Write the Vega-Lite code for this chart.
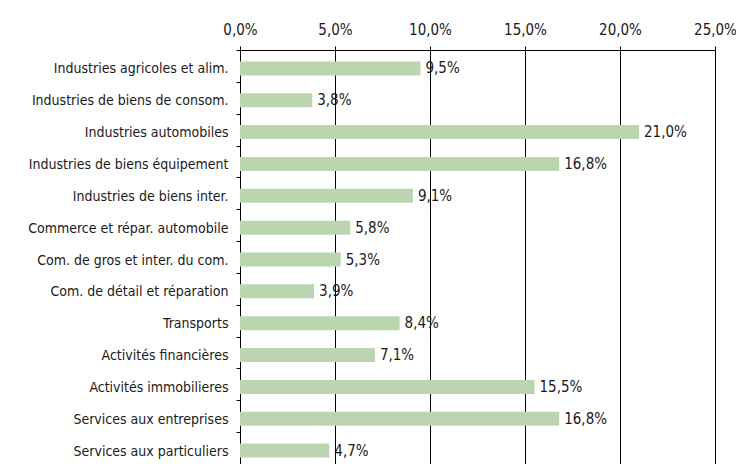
{
  "$schema": "https://vega.github.io/schema/vega-lite/v6.json",
  "autosize": {"type": "none"},
  "padding": {"left": 240, "top": 50, "right": 21, "bottom": 0},
  "width": 475,
  "height": 414,
  "background": "white",
  "config": {
    "locale": {"number": {"decimal": ",", "thousands": " ", "grouping": [3], "currency": ["", " €"]}},
    "view": {"stroke": "black", "strokeWidth": 1},
    "font": "DejaVu Sans Condensed"
  },
  "data": {
    "values": [
      {"secteur": "Industries agricoles et alim.", "part": 0.095},
      {"secteur": "Industries de biens de consom.", "part": 0.038},
      {"secteur": "Industries automobiles", "part": 0.210},
      {"secteur": "Industries de biens équipement", "part": 0.168},
      {"secteur": "Industries de biens inter.", "part": 0.091},
      {"secteur": "Commerce et répar. automobile", "part": 0.058},
      {"secteur": "Com. de gros et inter. du com.", "part": 0.053},
      {"secteur": "Com. de détail et réparation", "part": 0.039},
      {"secteur": "Transports", "part": 0.084},
      {"secteur": "Activités financières", "part": 0.071},
      {"secteur": "Activités immobilieres", "part": 0.155},
      {"secteur": "Services aux entreprises", "part": 0.168},
      {"secteur": "Services aux particuliers", "part": 0.047}
    ]
  },
  "encoding": {
    "y": {
      "field": "secteur",
      "type": "nominal",
      "sort": null,
      "title": null,
      "scale": {"paddingInner": 0, "paddingOuter": 0},
      "axis": {
        "tickBand": "extent",
        "domainColor": "black",
        "tickColor": "black",
        "tickSize": 4,
        "labelPadding": 8,
        "labelOffset": 3,
        "labelFont": "DejaVu Sans Condensed",
        "labelFontSize": 14,
        "labelColor": "#1a1a1a",
        "labelLimit": 260,
        "grid": false
      }
    },
    "x": {
      "field": "part",
      "type": "quantitative",
      "title": null,
      "scale": {"domain": [0, 0.25], "nice": false},
      "axis": {
        "orient": "top",
        "format": ".1%",
        "values": [0, 0.05, 0.1, 0.15, 0.2, 0.25],
        "domainColor": "black",
        "tickColor": "black",
        "tickSize": 4,
        "labelPadding": 9,
        "labelFont": "DejaVu Sans Condensed",
        "labelFontSize": 15,
        "labelColor": "#1a1a1a",
        "labelFlush": false,
        "grid": true,
        "gridColor": "black",
        "gridOpacity": 1,
        "gridWidth": 1
      }
    }
  },
  "layer": [
    {
      "mark": {"type": "bar", "height": {"band": 0.44}, "color": "#bad5b0", "yOffset": 2.5}
    },
    {
      "mark": {"type": "text", "align": "left", "baseline": "middle", "dx": 5, "yOffset": 2.5, "font": "DejaVu Sans Condensed", "fontSize": 15, "color": "#1a1a1a"},
      "encoding": {"text": {"field": "part", "type": "quantitative", "format": ".1%"}}
    }
  ]
}
